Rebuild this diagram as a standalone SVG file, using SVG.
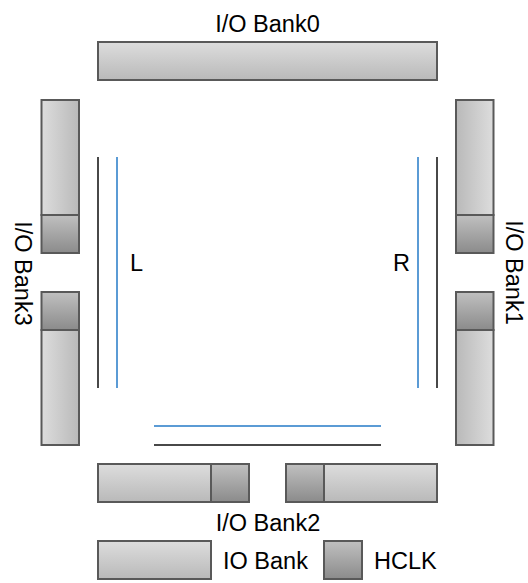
<svg xmlns="http://www.w3.org/2000/svg" width="528" height="583" viewBox="0 0 528 583">
<style>
.b{stroke:#595959;stroke-width:2}
.h{fill:url(#gh)}
.l{fill:url(#gl)}
.r{fill:url(#gr)}
.c{fill:url(#gc)}
.k{stroke:#484848;stroke-width:2;fill:none}
.u{stroke:#5b9bd5;stroke-width:2;fill:none}
text{font-family:"Liberation Sans",Arial,sans-serif;font-size:23.500px;fill:#000}
</style>
<defs>
<linearGradient id="gh" x1="0" y1="0" x2="0" y2="1"><stop offset="0" stop-color="#dddddd"/><stop offset="1" stop-color="#b9b9b9"/></linearGradient>
<linearGradient id="gl" x1="0" y1="0" x2="1" y2="0"><stop offset="0" stop-color="#dddddd"/><stop offset="1" stop-color="#b9b9b9"/></linearGradient>
<linearGradient id="gr" x1="0" y1="0" x2="1" y2="0"><stop offset="0" stop-color="#b9b9b9"/><stop offset="1" stop-color="#dddddd"/></linearGradient>
<linearGradient id="gc" x1="0" y1="0" x2="0" y2="1"><stop offset="0" stop-color="#c0c0c0"/><stop offset="1" stop-color="#8b8b8b"/></linearGradient>
</defs>
<g id="connectors">
<path class="k" d="M98 157V388"/><path class="u" d="M117 157V388"/>
<path class="u" d="M418 157V388"/><path class="k" d="M437 157V388"/>
<path class="u" d="M154 426H381"/><path class="k" d="M154 445H381"/>
</g>
<g id="bank0"><rect class="b h" x="98" y="42" width="339" height="38"/><text x="267.500" y="32" text-anchor="middle">I/O Bank0</text></g>
<g id="bank3">
<rect class="b l" x="41.500" y="100" width="37.500" height="115"/><rect class="b c" x="41.500" y="215" width="37.500" height="38"/>
<rect class="b c" x="41.500" y="292" width="37.500" height="38"/><rect class="b l" x="41.500" y="330" width="37.500" height="115"/>
<text transform="translate(15 273.500) rotate(90)" text-anchor="middle">I/O Bank3</text></g>
<g id="bank1">
<rect class="b r" x="456" y="100" width="37.500" height="115"/><rect class="b c" x="456" y="215" width="37.500" height="38"/>
<rect class="b c" x="456" y="292" width="37.500" height="38"/><rect class="b r" x="456" y="330" width="37.500" height="115"/>
<text transform="translate(506 272.500) rotate(90)" text-anchor="middle">I/O Bank1</text></g>
<g id="bank2">
<rect class="b h" x="98" y="464" width="113" height="38"/><rect class="b c" x="211" y="464" width="38" height="38"/>
<rect class="b c" x="286" y="464" width="38" height="38"/><rect class="b h" x="324" y="464" width="113" height="38"/>
<text x="268" y="530.500" text-anchor="middle">I/O Bank2</text></g>
<g id="labelL"><text x="130" y="271">L</text></g>
<g id="labelR"><text x="393" y="271">R</text></g>
<g id="legendIO"><rect class="b h" x="98" y="541" width="113" height="38"/><text x="223" y="568.500">IO Bank</text></g>
<g id="legendHCLK"><rect class="b c" x="324" y="541" width="38" height="38"/><text x="374" y="568.500">HCLK</text></g>
</svg>
